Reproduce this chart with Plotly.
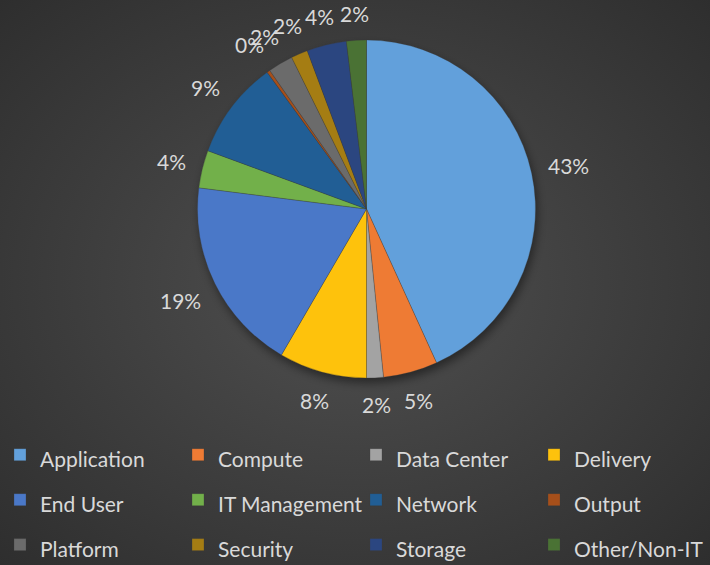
import base64
import math
import plotly.graph_objects as go

categories = ["Application", "Compute", "Data Center", "Delivery", "End User",
              "IT Management", "Network", "Output", "Platform", "Security",
              "Storage", "Other/Non-IT"]
shares = [43.2, 5.2, 1.6, 8.4, 18.6, 3.6, 9.4, 0.3, 2.4, 1.6, 3.8, 1.9]
colors = ["#62a0db", "#ee7b34", "#a3a3a3", "#fec20c", "#4a78c8", "#72b04a",
          "#215e95", "#a64f1a", "#6b6b6b", "#a57d13", "#2b4680", "#4a7234"]

W, H = 710, 565
cx, cy, r = 366.5, 209, 169

svg = (f'<svg xmlns="http://www.w3.org/2000/svg" width="{W}" height="{H}">'
       '<defs><radialGradient id="g" cx="50%" cy="50%" r="75%">'
       '<stop offset="0" stop-color="#505050"/><stop offset="1" stop-color="#2c2c2c"/>'
       '</radialGradient>'
       '<filter id="b" x="-20%" y="-20%" width="140%" height="140%">'
       '<feGaussianBlur stdDeviation="5"/></filter></defs>'
       f'<rect width="{W}" height="{H}" fill="url(#g)"/>'
       f'<circle cx="{cx + 2}" cy="{cy + 5}" r="{r}" fill="#000" fill-opacity="0.45" filter="url(#b)"/>'
       '</svg>')
bg = "data:image/svg+xml;base64," + base64.b64encode(svg.encode()).decode()

legend_labels = [f'<span style="font-size:21px">{c}</span>' for c in categories]

fig = go.Figure(go.Pie(
    labels=legend_labels,
    values=shares,
    sort=False,
    direction="clockwise",
    rotation=0,
    marker=dict(colors=colors, line=dict(color="rgba(60,60,60,0.6)", width=0.5)),
    textposition="none",
    domain=dict(x=[(cx - r) / W, (cx + r) / W], y=[(H - cy - r) / H, (H - cy + r) / H]),
    hoverinfo="label+percent",
))

# outside-end data labels, positioned from each slice's mid angle
total = sum(shares)
annotations = []
cum = 0.0
for v in shares:
    theta = math.radians((cum + v / 2) / total * 360)
    cum += v
    txt = f"{round(v / total * 100):d}%"
    w = 12 * (len(txt) - 1) + 17
    h = 22
    s, c = math.sin(theta), math.cos(theta)
    d = r + 15 + (w / 2) * abs(s) + (h / 2) * abs(c)
    px, py = cx + d * s, cy - d * c
    annotations.append(dict(
        x=px / W, y=1 - py / H, xref="paper", yref="paper",
        text=txt, showarrow=False, xanchor="center", yanchor="middle",
        font=dict(family="Lato", size=21, color="#d9d9d9"),
    ))

fig.update_layout(
    width=W, height=H,
    margin=dict(l=0, r=0, t=0, b=0, autoexpand=False),
    paper_bgcolor="#3c3c3c",
    plot_bgcolor="#3c3c3c",
    showlegend=True,
    legend=dict(
        orientation="h",
        x=0, xanchor="left",
        y=0.244, yanchor="top",
        entrywidth=133, entrywidthmode="pixels",
        font=dict(family="Lato", size=32.3, color="#d9d9d9"),
        bgcolor="rgba(0,0,0,0)",
        traceorder="normal",
    ),
    annotations=annotations,
    images=[dict(source=bg, xref="paper", yref="paper", x=0, y=1, sizex=1, sizey=1,
                 sizing="stretch", layer="below")],
)

fig.write_html("out.html", config={"displayModeBar": False},
               post_script="document.body.style.margin='0';document.body.style.overflow='hidden';")
